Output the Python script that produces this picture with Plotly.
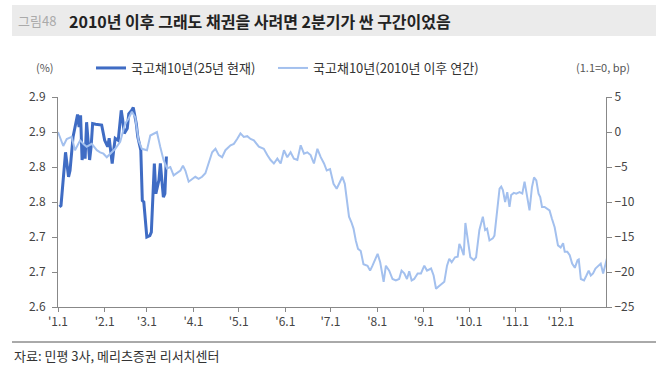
import numpy as np
import pandas as pd
import plotly.graph_objects as go

# ---- data ----
base_date = "2025-01-01"

# 2025 current (left axis, %) : day offset from Jan 1, value
cur_days = [1, 2, 5, 7, 8, 10, 13, 14, 15, 16, 17, 18, 19, 21, 22, 23, 25, 29, 31, 33,
            34, 36, 37, 38, 40, 42, 43, 44, 46, 47, 49, 50, 52, 53, 55, 56, 57, 59, 61,
            62, 64, 65, 67, 68, 70, 71, 72]
cur_vals = [2.743, 2.745, 2.821, 2.786, 2.795, 2.843, 2.875, 2.857, 2.874, 2.810, 2.833,
            2.812, 2.864, 2.810, 2.829, 2.862, 2.861, 2.860, 2.838, 2.829, 2.841, 2.805,
            2.824, 2.841, 2.838, 2.881, 2.867, 2.848, 2.855, 2.876, 2.881, 2.885, 2.862,
            2.843, 2.824, 2.752, 2.750, 2.700, 2.702, 2.707, 2.805, 2.762, 2.781, 2.805,
            2.757, 2.762, 2.815]

# average pattern since 2010 (right axis, bp, 1.1 = 0)
avg_days = [0, 3.5, 5.8, 9.1, 11.3, 14.7, 16.9, 19.1, 22.4, 25.8, 28, 30.2, 32.4, 35.8, 38,
            41.3, 44.6, 46.8, 49.1, 51.3, 53.5, 55.7, 59.1, 61.3, 63.5, 65.7, 67.9, 70.1,
            72.4, 74.6, 76.8, 79.1, 81.3, 83, 84.6, 86.8, 89, 91.2, 93.4, 95.7, 97.9, 100.1,
            102.4, 104.6, 106.8, 109, 111.2, 114.6, 116.8, 119, 121.2, 123.4, 125.7, 127.9,
            130.1, 133.4, 136.7, 139, 141.2, 143.4, 145.7, 147.9, 150.1, 152.3, 154.5, 156.7,
            159, 161.2, 163.4, 165.6, 167.8, 170, 172.3, 174.5, 176.7, 178.5, 180.7, 183,
            185.1, 186.7, 188.9, 190.5, 191.8, 193.3, 194.9, 196.3, 197.8, 199.3, 201.1,
            202.9, 205.6, 207.3, 208.9, 211.1, 212.3, 214, 216.3, 217.8, 220, 222.2, 224.4,
            226.6, 228.2, 230, 231.8, 233.3, 234.9, 236.6, 238.9, 241.1, 243.3, 245.1, 247.8,
            249.5, 251.1, 252.6, 254.9, 256.6, 258.4, 259.9, 261.5, 263.7, 265.5, 266.6,
            267.7, 269.5, 270.6, 272.2, 273.9, 276.2, 277.7, 279.9, 282.2, 283.7, 285, 286.6,
            288.8, 289.9, 291.7, 293.3, 294.4, 295.5, 297, 298.4, 299.9, 301, 302.8, 304.4,
            306.6, 308.4, 309.9, 311.5, 313.2, 314.8, 316.2, 317.7, 319.2, 320.3, 321.5,
            323.2, 325, 326.5, 328.1, 329.9, 332.1, 333.9, 335.5, 336.6, 338.3, 339.9, 341.5,
            343.3, 345.1, 345.9, 347.3, 349.4, 351, 352.5, 353.9, 355.4, 357, 358.8, 360.5,
            362.1, 363.6, 364.8]
avg_vals = [0, -2.0, -1.0, -0.7, -2.6, -1.2, -1.7, -2.1, -1.7, -2.6, -2.9, -3.1, -3.6, -2.9,
            -2.4, -1.4, 1.2, 1.9, 2.9, 2.1, -1.2, -2.4, -2.6, -0.5, -0.2, 0, -2.1, -4.0, -5.2,
            -5.0, -6.2, -5.9, -5.5, -4.8, -5.5, -7.1, -6.7, -6.4, -6.7, -6.4, -5.9, -4.5, -2.9,
            -2.4, -3.3, -3.6, -2.6, -1.9, -1.7, -1.0, -0.2, -0.7, -0.6, -1.0, -1.2, -2.1, -2.4,
            -3.3, -4.0, -4.5, -3.8, -4.5, -2.6, -3.6, -2.9, -3.8, -4.0, -1.9, -3.1, -2.9, -3.3,
            -4.5, -2.4, -3.6, -4.5, -5.5, -5.3, -7.4, -8.1, -7.4, -6.4, -7.4, -9.8, -12.1,
            -12.9, -13.8, -15.5, -16.7, -17.0, -18.9, -19.1, -19.8, -19.1, -18.1, -17.4, -18.6,
            -21.4, -19.1, -19.8, -21.0, -21.2, -21.0, -19.8, -20.2, -21.0, -19.9, -21.2, -21.0,
            -20.2, -20.2, -19.1, -19.8, -19.5, -20.5, -22.4, -22.1, -21.7, -21.4, -19.1, -18.1,
            -18.6, -17.9, -17.8, -16.0, -16.5, -17.6, -13.0, -15.8, -17.9, -18.3, -17.9, -14.0,
            -12.1, -14.0, -13.8, -15.5, -15.2, -14.8, -10.7, -8.1, -7.8, -8.3, -10.0, -8.6,
            -10.7, -9.0, -8.7, -8.8, -8.6, -8.8, -7.1, -9.3, -11.2, -7.9, -6.5, -6.9, -8.8,
            -9.3, -10.7, -10.7, -11.0, -11.2, -12.4, -13.6, -16.2, -16.5, -15.9, -17.1, -17.1,
            -17.6, -18.8, -19.4, -18.3, -18.2, -21.0, -21.2, -20.5, -19.8, -20.5, -20.2, -19.5,
            -19.2, -18.8, -20.2, -18.8, -17.9]

series_names = ["국고채10년(25년 현재)", "국고채10년(2010년 이후 연간)"]
month_ticks = ["2025-%02d-01" % m for m in range(1, 13)]
month_labels = ["'%d.1" % m for m in range(1, 13)]
left_tickvals = [2.60, 2.65, 2.70, 2.75, 2.80, 2.85, 2.90]
left_ticktext = ["2.6", "2.7", "2.7", "2.8", "2.8", "2.9", "2.9"]
right_tickvals = [-25, -20, -15, -10, -5, 0, 5]

title_tag = "그림48"
title_text = "2010년 이후 그래도 채권을 사려면 2분기가 싼 구간이었음"
source_text = "자료: 민평 3사, 메리츠증권 리서치센터"

# ---- build ----
t0 = pd.Timestamp(base_date)
cur_x = t0 + pd.to_timedelta(np.array(cur_days, dtype=float), unit="D")
avg_x = t0 + pd.to_timedelta(np.array(avg_days, dtype=float), unit="D")

FONT = "Noto Sans CJK KR"
DARK = "#3F6CC4"
LIGHT = "#A3C0EE"

fig = go.Figure()
fig.add_trace(go.Scatter(x=avg_x, y=avg_vals, name=series_names[1], yaxis="y2",
                         mode="lines", line=dict(color=LIGHT, width=2), legend="legend2"))
fig.add_trace(go.Scatter(x=cur_x, y=cur_vals, name=series_names[0], yaxis="y",
                         mode="lines", line=dict(color=DARK, width=3), legend="legend"))

L, R, T, B = 58, 64, 97, 67
W, H = 670, 374
pw, ph = W - L - R, H - T - B


def px(x):
    return (x - L) / pw


def py(y):
    return (H - B - y) / ph


legend_common = dict(orientation="h", yanchor="middle", xanchor="left",
                     font=dict(size=13, color="#333"), bgcolor="rgba(0,0,0,0)",
                     itemwidth=30)

fig.update_layout(
    width=W, height=H,
    margin=dict(l=L, r=R, t=T, b=B, pad=0, autoexpand=False),
    paper_bgcolor="white", plot_bgcolor="white",
    font=dict(family=FONT, size=12, color="#444"),
    showlegend=True,
    legend=dict(x=px(91), y=py(68), **legend_common),
    legend2=dict(x=px(273), y=py(68), **legend_common),
    xaxis=dict(type="date", range=["2025-01-01", "2025-12-31"],
               tickvals=month_ticks, ticktext=month_labels,
               showgrid=False, zeroline=False, showline=True, linecolor="#888",
               linewidth=1, ticks="outside", ticklen=4, tickcolor="#888",
               tickfont=dict(size=12, color="#444")),
    yaxis=dict(range=[2.60, 2.90], tickvals=left_tickvals, ticktext=left_ticktext,
               showgrid=False, zeroline=False, showline=True, linecolor="#888",
               linewidth=1, ticks="outside", ticklen=5, tickcolor="#888",
               ticklabelstandoff=4,
               tickfont=dict(size=12, color="#444")),
    yaxis2=dict(range=[-25, 5], tickvals=right_tickvals, overlaying="y", side="right",
                showgrid=False, zeroline=False, showline=True, linecolor="#888",
                linewidth=1, ticks="outside", ticklen=5, tickcolor="#888",
                tickfont=dict(size=12, color="#444")),
)

shapes = [
    dict(type="rect", xref="paper", yref="paper", x0=px(12), x1=px(656), y0=py(36), y1=py(5),
         fillcolor="#EBEBEB", line=dict(width=0), layer="below"),
    dict(type="line", xref="paper", yref="paper", x0=px(12), x1=px(656), y0=py(342), y1=py(342),
         line=dict(color="#555", width=1)),
]
fig.update_layout(shapes=shapes)

annos = [
    dict(text=title_tag, x=px(16), y=py(21), xanchor="left", yanchor="middle",
         font=dict(size=13, color="#AAAAAA", family=FONT)),
    dict(text="<b>" + title_text + "</b>", x=px(67), y=py(21), xanchor="left", yanchor="middle",
         font=dict(size=16, color="#222", family=FONT)),
    dict(text="(%)", x=px(45), y=py(67), xanchor="center", yanchor="middle",
         font=dict(size=11, color="#555")),
    dict(text="(1.1=0, bp)", x=px(603), y=py(67), xanchor="center", yanchor="middle",
         font=dict(size=11, color="#555")),
    dict(text=source_text, x=px(12), y=py(355), xanchor="left", yanchor="middle",
         font=dict(size=13, color="#333")),
]
for a in annos:
    a.update(xref="paper", yref="paper", showarrow=False)
fig.update_layout(annotations=annos)

fig.write_html("out.html", config={"displayModeBar": False},
               post_script="document.body.style.margin='0';")
